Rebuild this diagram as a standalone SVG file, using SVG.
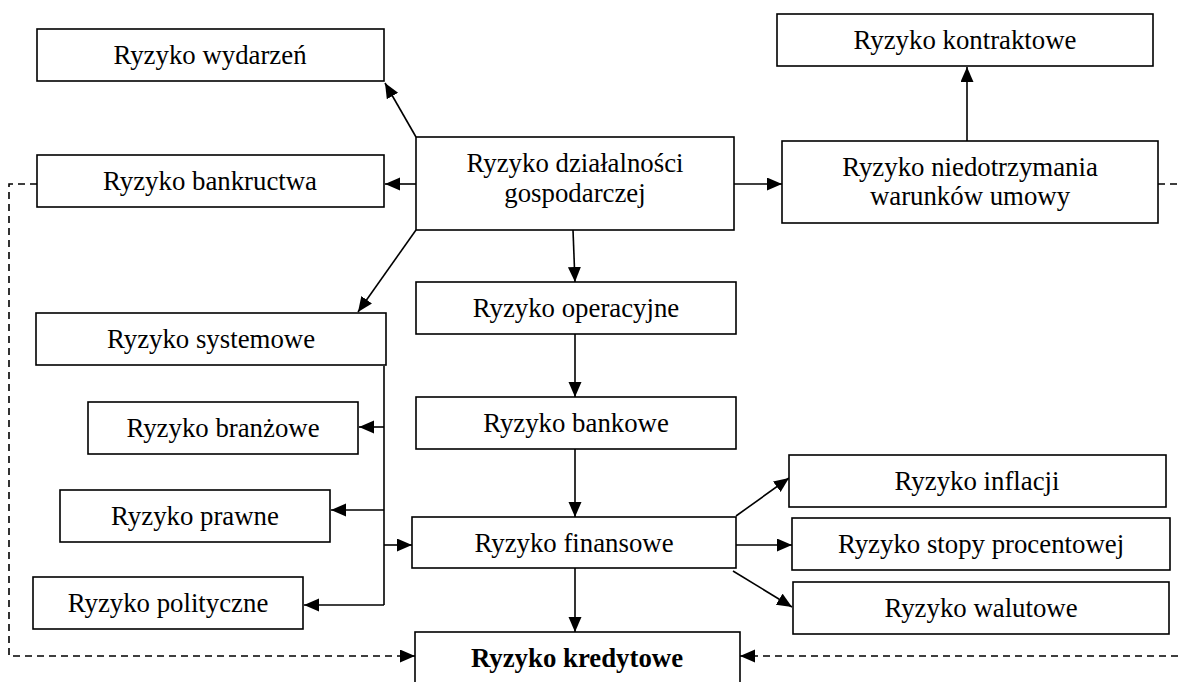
<svg xmlns="http://www.w3.org/2000/svg" width="1178" height="682" viewBox="0 0 1178 682">
<style>
.n rect{fill:#fff;stroke:#000;stroke-width:1.6}
text{font-family:"Liberation Serif","Times New Roman",serif;font-size:26.8px;text-anchor:middle;fill:#000}
.c line,.c polyline{stroke:#000;stroke-width:1.6;fill:none}
.c .a{marker-end:url(#ah)}
.c .d{stroke-dasharray:7 5}
</style>
<defs>
<marker id="ah" markerUnits="userSpaceOnUse" markerWidth="16" markerHeight="14" refX="15" refY="6.5" orient="auto"><path d="M0,0 L15,6.5 L0,13 z" fill="#000"/></marker>
</defs>
<rect width="1178" height="682" fill="#fff"/>
<g class="c" id="connectors">
<line class="a" x1="416" y1="137" x2="385" y2="83"/>
<line class="a" x1="416" y1="184" x2="385" y2="184"/>
<line class="a" x1="416" y1="230" x2="358" y2="312"/>
<line class="a" x1="573" y1="230" x2="575" y2="282"/>
<line class="a" x1="734" y1="184" x2="782" y2="184"/>
<line class="a" x1="967" y1="141" x2="967" y2="67"/>
<line class="a" x1="575" y1="334" x2="575" y2="397"/>
<line class="a" x1="575" y1="449" x2="575" y2="517"/>
<line class="a" x1="575" y1="568" x2="575" y2="632"/>
<line x1="384" y1="366" x2="384" y2="605"/>
<line class="a" x1="384" y1="427" x2="359" y2="427"/>
<line class="a" x1="384" y1="510" x2="331" y2="510"/>
<line class="a" x1="384" y1="545" x2="412" y2="545"/>
<line class="a" x1="384" y1="605" x2="304" y2="605"/>
<line class="a" x1="736" y1="516" x2="789" y2="478"/>
<line class="a" x1="736" y1="545" x2="792" y2="545"/>
<line class="a" x1="733" y1="571" x2="792" y2="607"/>
<polyline class="d a" points="37,184 9,184 9,656 415,656"/>
<line class="d" x1="1158" y1="184" x2="1178" y2="184"/>
<line class="d a" x1="1178" y1="656" x2="740" y2="656"/>
</g>
<g class="n" id="n-wydarzen"><rect x="37" y="29" width="347" height="52"/><text x="210" y="64">Ryzyko wydarzeń</text></g>
<g class="n" id="n-bankructwa"><rect x="37" y="155" width="347" height="52"/><text x="210" y="190">Ryzyko bankructwa</text></g>
<g class="n" id="n-dzialalnosci"><rect x="416" y="137" width="318" height="93"/><text x="575" y="172">Ryzyko działalności</text><text x="575" y="202">gospodarczej</text></g>
<g class="n" id="n-kontraktowe"><rect x="777" y="14" width="376" height="52"/><text x="965" y="49">Ryzyko kontraktowe</text></g>
<g class="n" id="n-niedotrzymania"><rect x="782" y="141" width="376" height="82"/><text x="970" y="176">Ryzyko niedotrzymania</text><text x="970" y="205">warunków umowy</text></g>
<g class="n" id="n-systemowe"><rect x="36" y="313" width="350" height="52"/><text x="211" y="348">Ryzyko systemowe</text></g>
<g class="n" id="n-operacyjne"><rect x="416" y="282" width="320" height="52"/><text x="576" y="317">Ryzyko operacyjne</text></g>
<g class="n" id="n-branzowe"><rect x="88" y="402" width="270" height="52"/><text x="223" y="437">Ryzyko branżowe</text></g>
<g class="n" id="n-bankowe"><rect x="416" y="397" width="320" height="52"/><text x="576" y="432">Ryzyko bankowe</text></g>
<g class="n" id="n-prawne"><rect x="60" y="490" width="270" height="52"/><text x="195" y="525">Ryzyko prawne</text></g>
<g class="n" id="n-finansowe"><rect x="412" y="517" width="324" height="51"/><text x="574" y="552">Ryzyko finansowe</text></g>
<g class="n" id="n-polityczne"><rect x="33" y="577" width="270" height="52"/><text x="168" y="612">Ryzyko polityczne</text></g>
<g class="n" id="n-inflacji"><rect x="789" y="455" width="377" height="52"/><text x="977" y="490">Ryzyko inflacji</text></g>
<g class="n" id="n-stopy"><rect x="792" y="518" width="378" height="52"/><text x="981" y="553">Ryzyko stopy procentowej</text></g>
<g class="n" id="n-walutowe"><rect x="793" y="582" width="376" height="52"/><text x="981" y="617">Ryzyko walutowe</text></g>
<g class="n" id="n-kredytowe"><rect x="415" y="632" width="325" height="60"/><text x="577" y="667" font-weight="bold">Ryzyko kredytowe</text></g>
</svg>
